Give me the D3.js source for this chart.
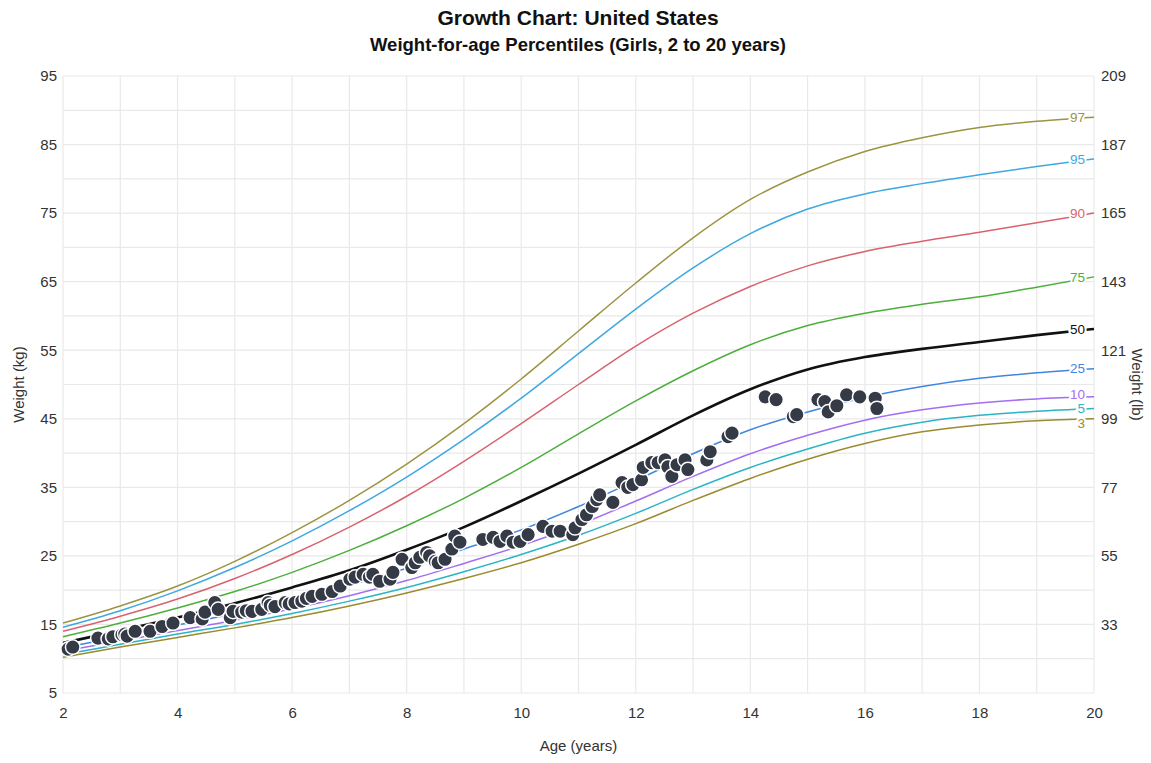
<!DOCTYPE html>
<html>
<head>
<meta charset="utf-8">
<script src="https://cdn.jsdelivr.net/npm/d3@7"></script>
<style>
  body { margin: 0; background: #fff; font-family: "Liberation Sans", Arial, sans-serif; }
  .grid line { stroke: #e9e9e9; stroke-width: 1.2; }
  .tick text { fill: #333; font-size: 15px; }
</style>
</head>
<body>
<div id="vis"></div>
<script>
// percentile curves (kg), read at whole years of age
var ages = [2, 3, 4, 5, 6, 7, 8, 9, 10, 11, 12, 13, 14, 15, 16, 17, 18, 19, 20];
var p3  = [10.2, 11.7, 13.1, 14.5, 16.0, 17.7, 19.6, 21.7, 24.0, 26.7, 29.7, 33.1, 36.3, 39.1, 41.4, 43.1, 44.1, 44.7, 45.0];
var p5  = [10.6, 12.1, 13.6, 15.0, 16.6, 18.4, 20.4, 22.7, 25.2, 28.0, 31.2, 34.7, 37.9, 40.6, 42.9, 44.5, 45.5, 46.1, 46.5];
var p10 = [11.1, 12.6, 14.1, 15.6, 17.3, 19.2, 21.4, 23.9, 26.5, 29.5, 33.0, 36.6, 39.9, 42.6, 44.8, 46.3, 47.3, 47.9, 48.2];
var p25 = [11.6, 13.2, 14.9, 16.6, 18.5, 20.7, 23.2, 26.0, 28.8, 32.2, 36.0, 39.9, 43.4, 46.0, 48.1, 49.7, 50.9, 51.7, 52.3];
var p50 = [12.3, 14.1, 16.0, 18.1, 20.4, 22.9, 25.9, 29.2, 33.0, 37.0, 41.2, 45.5, 49.3, 52.2, 54.0, 55.2, 56.2, 57.2, 58.1];
var p75 = [13.2, 15.2, 17.4, 19.8, 22.6, 25.8, 29.4, 33.4, 37.9, 42.8, 47.6, 52.0, 55.8, 58.6, 60.4, 61.7, 62.8, 64.2, 65.7];
var p90 = [14.0, 16.2, 18.7, 21.7, 25.2, 29.2, 33.7, 38.8, 44.3, 50.0, 55.6, 60.4, 64.3, 67.3, 69.4, 70.9, 72.2, 73.6, 75.0];
var p95 = [14.6, 17.0, 19.9, 23.3, 27.2, 31.6, 36.5, 42.0, 48.0, 54.5, 61.0, 67.0, 72.0, 75.6, 77.8, 79.3, 80.6, 81.8, 82.9];
var p97 = [15.2, 17.7, 20.6, 24.2, 28.4, 33.1, 38.4, 44.3, 50.8, 57.8, 64.8, 71.4, 77.0, 81.0, 84.0, 86.0, 87.5, 88.4, 89.0];

var percentileNames = ['3', '5', '10', '25', '50', '75', '90', '95', '97'];
var percentileValues = [p3, p5, p10, p25, p50, p75, p90, p95, p97];

// measurements of the child
var childAges = [2.09, 2.17, 2.61, 2.79, 2.87, 3.03, 3.08, 3.12, 3.26, 3.52, 3.73, 3.92, 4.22, 4.43, 4.48, 4.65, 4.71,
  4.92, 4.97, 5.12, 5.20, 5.30, 5.47, 5.58, 5.62, 5.70, 5.88, 5.95, 6.05, 6.17, 6.25, 6.35, 6.52, 6.70, 6.84, 7.01,
  7.10, 7.24, 7.35, 7.41, 7.53, 7.71, 7.76, 7.92, 8.09, 8.15, 8.23, 8.35, 8.40, 8.50, 8.55, 8.67, 8.79, 8.84, 8.93,
  9.33, 9.51, 9.63, 9.75, 9.86, 9.98,
  10.12, 10.38, 10.54, 10.68, 10.90, 10.94, 11.06, 11.14, 11.24, 11.32, 11.37, 11.60, 11.76, 11.86, 11.95,
  12.10, 12.13, 12.28, 12.39, 12.51, 12.56, 12.63, 12.72, 12.86, 12.91, 13.24, 13.30, 13.61, 13.68, 14.26,
  14.45, 14.75, 14.81, 15.18, 15.30, 15.36, 15.51, 15.68, 15.91, 16.18, 16.21];
var childWeights = [11.4, 11.7, 13.0, 12.9, 13.2, 13.5, 13.6, 13.3, 14.0, 14.0, 14.7, 15.2, 16.0, 15.8, 16.8, 18.2, 17.2,
  16.0, 16.9, 16.8, 17.0, 16.9, 17.2, 18.2, 17.8, 17.6, 18.2, 18.0, 18.2, 18.4, 18.8, 19.1, 19.4, 19.8, 20.6, 21.6,
  21.9, 22.3, 21.9, 22.3, 21.3, 21.6, 22.6, 24.5, 23.3, 24.0, 24.8, 25.5, 25.0, 24.2, 24.0, 24.5, 26.0, 27.9, 27.0,
  27.4, 27.7, 27.1, 27.9, 27.0, 27.1,
  28.1, 29.3, 28.6, 28.6, 28.1, 29.1, 30.3, 31.0, 32.2, 33.2, 33.9, 32.8, 35.7, 35.0, 35.4,
  36.1, 37.9, 38.6, 38.6, 39.0, 38.0, 36.6, 38.3, 39.0, 37.6, 39.0, 40.2, 42.4, 42.9, 48.2,
  47.8, 45.3, 45.6, 47.8, 47.5, 46.0, 46.9, 48.5, 48.2, 48.0, 46.5];

var kgTicks = [5, 15, 25, 35, 45, 55, 65, 75, 85, 95];
var lbTicks = [15, 25, 35, 45, 55, 65, 75, 85, 95];
var ageTicks = [2, 4, 6, 8, 10, 12, 14, 16, 18, 20];

var width = 1151;
var height = 763;
var margin = { top: 76, right: 57, bottom: 70, left: 63 };
var innerW = width - margin.left - margin.right;
var innerH = height - margin.top - margin.bottom;

var colors = d3.scaleOrdinal()
  .domain(percentileNames)
  .range(['#9b8b2e', '#2ab4c6', '#a36ef2', '#3f86e0', '#111111', '#4caf3b', '#d8636f', '#3ea8e1', '#9c9440']);

// small nudges so the crowded end labels stay readable
var labelNudge = { '10': -2.5, '3': 4 };

var svg = d3.select('#vis').append('svg')
  .attr('width', width)
  .attr('height', height);

var g = svg.append('g').attr('transform', 'translate(' + margin.left + ',' + margin.top + ')');

var x = d3.scaleLinear().domain([2, 20]).range([0, innerW]);
var y = d3.scaleLinear().domain([5, 95]).range([innerH, 0]);

// grid
g.append('g').attr('class', 'grid')
  .selectAll('line.v').data(d3.range(2, 21)).enter().append('line')
  .attr('x1', function (d) { return x(d); }).attr('x2', function (d) { return x(d); })
  .attr('y1', 0).attr('y2', innerH);
g.append('g').attr('class', 'grid')
  .selectAll('line.h').data(d3.range(5, 96, 5)).enter().append('line')
  .attr('y1', function (d) { return y(d); }).attr('y2', function (d) { return y(d); })
  .attr('x1', 0).attr('x2', innerW);

// axes
var xAxis = g.append('g').attr('transform', 'translate(0,' + innerH + ')')
  .call(d3.axisBottom(x).tickValues(ageTicks).tickSize(0).tickPadding(14));
var yAxis = g.append('g')
  .call(d3.axisLeft(y).tickValues(kgTicks).tickSize(0).tickPadding(6));
var yAxisR = g.append('g').attr('transform', 'translate(' + innerW + ',0)')
  .call(d3.axisRight(y).tickValues(lbTicks).tickSize(0).tickPadding(7)
    .tickFormat(function (d) { return Math.round(d * 2.20462); }));
[xAxis, yAxis, yAxisR].forEach(function (a) { a.select('.domain').remove(); });

// percentile curves
var line = d3.line()
  .x(function (d) { return x(d[0]); })
  .y(function (d) { return y(d[1]); })
  .curve(d3.curveMonotoneX);

percentileNames.forEach(function (name, i) {
  var pts = ages.map(function (a, j) { return [a, percentileValues[i][j]]; });
  g.append('path')
    .datum(pts)
    .attr('fill', 'none')
    .attr('stroke', colors(name))
    .attr('stroke-width', name === '50' ? 2.6 : 1.5)
    .attr('d', line);
  g.append('text')
    .attr('x', x(20) - 9)
    .attr('y', y(pts[pts.length - 1][1]) + (labelNudge[name] || 0))
    .attr('dy', '0.35em')
    .attr('text-anchor', 'end')
    .attr('fill', colors(name))
    .attr('stroke', '#fff')
    .attr('stroke-width', 4)
    .attr('paint-order', 'stroke')
    .style('font-size', '13.5px')
    .text(name);
});

// child points
g.selectAll('.pt').data(childAges).enter().append('circle')
  .attr('class', 'pt')
  .attr('cx', function (d) { return x(d); })
  .attr('cy', function (d, i) { return y(childWeights[i]); })
  .attr('r', 7.3)
  .attr('fill', '#343a46')
  .attr('stroke', '#fff')
  .attr('stroke-width', 1.5);

// titles
svg.append('text').attr('x', 578).attr('y', 25).attr('text-anchor', 'middle')
  .style('font-size', '21px').style('font-weight', 'bold').attr('fill', '#111')
  .text('Growth Chart: United States');
svg.append('text').attr('x', 578).attr('y', 51).attr('text-anchor', 'middle')
  .style('font-size', '18.5px').style('font-weight', 'bold').attr('fill', '#111')
  .text('Weight-for-age Percentiles (Girls, 2 to 20 years)');

svg.append('text').attr('x', margin.left + innerW / 2).attr('y', 751).attr('text-anchor', 'middle')
  .style('font-size', '15px').attr('fill', '#333').text('Age (years)');
svg.append('text').attr('transform', 'translate(24,' + (margin.top + innerH / 2) + ') rotate(-90)')
  .attr('text-anchor', 'middle').style('font-size', '15px').attr('fill', '#333').text('Weight (kg)');
svg.append('text').attr('transform', 'translate(1132,' + (margin.top + innerH / 2) + ') rotate(90)')
  .attr('text-anchor', 'middle').style('font-size', '15px').attr('fill', '#333').text('Weight (lb)');
</script>
</body>
</html>
